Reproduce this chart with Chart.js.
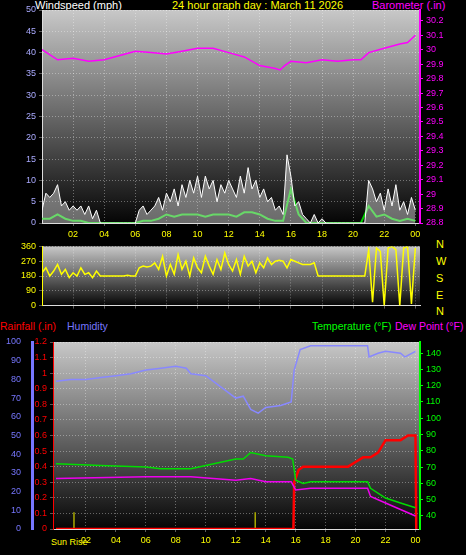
<!DOCTYPE html>
<html><head><meta charset="utf-8">
<script src="https://cdn.jsdelivr.net/npm/chart.js@4"></script>
<style>
body{margin:0;background:#000;width:466px;height:555px;position:relative;overflow:hidden;font-family:"Liberation Sans",Arial,sans-serif}
canvas{position:absolute;left:0}
.t{position:absolute;font-size:11px;white-space:nowrap}
.d{position:absolute;left:436px;color:#ff0;font-size:11px}
</style></head><body>
<div class="t" style="left:35px;top:-1px;color:#fff">Windspeed (mph)</div>
<div class="t" style="left:172px;top:-1px;color:#ff0">24 hour graph day : March 11 2026</div>
<div class="t" style="left:372px;top:-1px;color:#f0f">Barometer (.in)</div>
<div class="t" style="left:0;top:320px;color:#f00;font-size:10.5px">Rainfall (.in)</div>
<div class="t" style="left:67px;top:320px;color:#77f;font-size:10.5px">Humidity</div>
<div class="t" style="left:312px;top:320px;color:#0f0;font-size:10.5px">Temperature (°F)</div>
<div class="t" style="left:395px;top:320px;color:#f0f;font-size:10.5px">Dew Point (°F)</div>
<div class="t" style="left:51px;top:537px;color:#ff0;font-size:9px">Sun Rise</div>
<div class="d" style="top:238px">N</div>
<div class="d" style="top:255px">W</div>
<div class="d" style="top:272px">S</div>
<div class="d" style="top:289px">E</div>
<div class="d" style="top:305px">N</div>
<canvas id="c1" width="466" height="240" style="top:0"></canvas>
<canvas id="c2" width="466" height="76" style="top:238px"></canvas>
<canvas id="c3" width="466" height="225" style="top:330px"></canvas>
<script>
// wind gust, 15 min steps
const gust = [3,7,6,7,9,4,5,3,4, 3,4,2,4,1,3,0,0, 0,0,0,0,0,0,0,0, 3,4,2,3,4,6,3,7,
  5,8,4,9,6,10,7,11, 6,11,8,10,5,9,7,10, 8,6,11,7,13,8,10,6, 8,5,6,3,4,2,16,11,
  4,5,2,1,0,2,0,1, 0,0,0,0,0,0,0,0, 0,0,0,10,8,5,7,3, 8,4,9,3,5,2,6,3];
// wind speed, 30 min steps
const speed = [1,1,2,1,0.5,0.5,0,0,0,0,0,0,0,0.5,0.5,1,2,1.5,2,2,2,1.5,2,2,2,1.5,2.5,2.5,2,1,0.5,0.5,8,2,0,0,0,0,0,0,0,0,4,1.5,2,1,0.5,1,0.5];
const baroH = [0,1,2,3,4,5,6,7,8,9,10,11,12,13,14,15,15.3,15.6,16,17,18,19,20,20.5,21,22,23,23.5,24];
const baro = [30.0,29.93,29.94,29.92,29.93,29.96,29.99,29.98,29.97,29.99,30.01,30.01,29.98,29.95,29.89,29.87,29.86,29.89,29.92,29.91,29.93,29.92,29.93,29.93,29.98,30.01,30.04,30.05,30.1];
// wind direction, 15 min steps
const dir = [200,230,180,210,250,190,220,170,200, 180,230,190,200,170,210,180,180, 180,180,180,180,180,185,180,180,
  230,240,235,240,260,220,300,180, 250,190,310,220,270,180,290,230, 200,300,240,190,280,220,320,250,
  210,280,190,300,240,270,200,260, 230,290,250,270,275,270,230,280, 270,260,250,250,250,260,180,180,
  180,180,180,180,180,180,180,180, 180,180,180,340,20,350,330,0, 350,360,340,0,350,360,10,350];
const humH = [0,1,2,3,4,5,6,7,8,8.7,9,10,11,12,12.5,13,13.5,14,15,15.7,15.9,16.3,17,18,20,20.8,20.9,21.5,22,23,23.3,24];
const hum = [79,80,80,81,82,83,85,86,87,86,83,82,76,70,71,64,62,65,66,68,85,96,98,98,98,98,92,94,95,94,92,95];
const tempH = [0,3,6,7,9,10,11,12,12.5,13,14,15.5,15.8,16,16.5,17,20.8,21,22,23,24];
const temp = [72,71,70,69,69,71,73,75,75,79,77,76,75,62,60,61,61,57,51,48,45];
const dewH = [0,6,9,12,13,14,15.7,16,17,20.8,21,22,23,24];
const dew = [63,64,64,62,63,61,61,56,57,57,52,48,44,40];
const rainH = [0,15.85,15.9,16.2,16.5,19.5,20,20.5,21,21.5,22,23,23.5,24,24.05];
const rain = [0,0,0.3,0.38,0.4,0.4,0.43,0.46,0.46,0.49,0.57,0.57,0.6,0.6,0];
const sunMarks = [1.2, 13.3];
const hourTicks = [2,4,6,8,10,12,14,16,18,20,22,24];
const baroTicks = [28.8,28.9,29.0,29.1,29.2,29.3,29.4,29.5,29.6,29.7,29.8,29.9,30.0,30.1,30.2];
const tempTicks = [40,50,60,70,80,90,100,110,120,130,140];
const dirTicks = [0,90,180,270,360];

const pts = (xs, ys) => ys.map((y, i) => ({x: xs[i], y}));
const stepPts = (ys, step) => ys.map((y, i) => ({x: i * step, y}));
const fixTicks = list => s => { s.ticks = list.map(v => ({value: v})); };

const bg = {
  id: 'bg',
  beforeDraw(c) {
    const a = c.chartArea, g = c.ctx.createLinearGradient(0, a.top, 0, a.bottom);
    g.addColorStop(0, '#c8c8c8'); g.addColorStop(1, '#050505');
    c.ctx.fillStyle = g;
    c.ctx.fillRect(a.left, a.top, a.right - a.left, a.bottom - a.top);
  }
};
Chart.defaults.font.family = '"Liberation Sans", Arial, sans-serif';
Chart.defaults.font.size = 9;
Chart.defaults.animation = false;
const grid = {color: 'rgba(255,255,255,0.35)', drawTicks: true, tickLength: 3};
const xScale = (show, min, max, h) => ({
  type: 'linear', min, max, afterFit: s => { s.height = h; },
  afterBuildTicks: fixTicks(hourTicks),
  ticks: {color: '#ff0', display: show, callback: v => String(v % 24).padStart(2, '0'), maxRotation: 0, autoSkip: false},
  grid, border: {dash: [1, 2], color: '#ddd'}
});
const common = {responsive: false, devicePixelRatio: 1, plugins: {legend: {display: false}, tooltip: {enabled: false}},
  elements: {point: {radius: 0}, line: {tension: 0}}};

new Chart(document.getElementById('c1'), {
  type: 'line',
  data: {datasets: [
    {data: stepPts(gust, 0.25), borderColor: '#fff', borderWidth: 1, fill: 'origin', backgroundColor: 'rgba(230,230,230,0.45)', yAxisID: 'y'},
    {data: stepPts(speed, 0.5), borderColor: '#0c0', borderWidth: 2, yAxisID: 'y'},
    {data: pts(baroH, baro), borderColor: '#f0f', borderWidth: 1.5, yAxisID: 'yb'}
  ]},
  options: {...common, layout: {padding: {top: 10}},
    scales: {
      x: xScale(true, 0, 24.3, 17),
      y: {min: 0, max: 50, position: 'left', afterFit: s => { s.width = 42; },
        ticks: {stepSize: 5, color: '#aaf'}, grid, border: {dash: [1, 2], color: '#ddd'}},
      yb: {min: 28.8, max: 30.275, position: 'right', afterFit: s => { s.width = 46; },
        afterBuildTicks: fixTicks(baroTicks),
        ticks: {color: '#f0f', callback: v => v.toFixed(1).replace(/\.0$/, '')}, grid: {drawOnChartArea: false, color: '#f0f', tickLength: 3}, border: {color: '#f0f', width: 2}}
    }},
  plugins: [bg]
});

new Chart(document.getElementById('c2'), {
  type: 'line',
  data: {datasets: [{data: stepPts(dir, 0.25), borderColor: '#ff0', borderWidth: 1.5}]},
  options: {...common, layout: {padding: {top: 2, right: 46}},
    scales: {
      x: {...xScale(false, 0, 24.3, 4), ticks: {display: false}},
      y: {min: 0, max: 360, afterFit: s => { s.width = 42; }, afterBuildTicks: fixTicks(dirTicks),
        ticks: {color: '#ff0', autoSkip: false},
        grid: {color: 'rgba(255,255,255,0.35)', tickLength: 3}, border: {dash: [1, 2], color: '#ff0'}}
    }},
  plugins: [bg]
});

new Chart(document.getElementById('c3'), {
  type: 'line',
  data: {datasets: [
    {data: pts(humH, hum), borderColor: '#88f', borderWidth: 1.5, yAxisID: 'yh'},
    {data: pts(tempH, temp), borderColor: '#0d0', borderWidth: 1.5, yAxisID: 'yt'},
    {data: pts(dewH, dew), borderColor: '#e0e', borderWidth: 1.5, yAxisID: 'yt'},
    {data: pts(rainH, rain), borderColor: '#f00', borderWidth: 2.5, yAxisID: 'yr'},
    ...sunMarks.map(h => ({data: [{x: h, y: 0}, {x: h, y: 9}], borderColor: '#aa0', borderWidth: 1.5, yAxisID: 'yh'}))
  ]},
  options: {...common, layout: {padding: {top: 12}},
    scales: {
      x: xScale(true, -0.2, 24.3, 26),
      yh: {min: 0, max: 100, position: 'left', weight: 1, afterFit: s => { s.width = 32; },
        ticks: {stepSize: 10, color: '#77f'}, grid: {display: false}, border: {color: '#77f', width: 3}},
      yr: {min: 0, max: 1.2, position: 'left', weight: 0, afterFit: s => { s.width = 21; },
        ticks: {stepSize: 0.1, color: '#f00', callback: v => v.toFixed(1).replace(/\.0$/, '')}, grid, border: {dash: [1, 2], color: '#f00'}},
      yt: {min: 32, max: 146.8, position: 'right', afterFit: s => { s.width = 46; },
        afterBuildTicks: fixTicks(tempTicks),
        ticks: {color: '#0f0'}, grid: {drawOnChartArea: false, color: '#0f0', tickLength: 3}, border: {color: '#0f0', width: 2}}
    }},
  plugins: [bg]
});
</script>
</body></html>
